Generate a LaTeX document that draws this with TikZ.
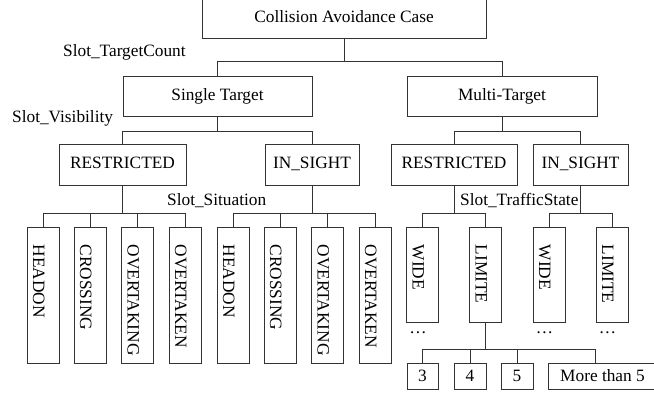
\documentclass[tikz,border=0pt]{standalone}
\usepackage{fontspec}
\setmainfont{Liberation Serif}
\usetikzlibrary{calc}
\definecolor{linec}{HTML}{333333}
\begin{document}
\begin{tikzpicture}[x=1pt,y=-1pt,
  every node/.style={font=\fontsize{17.3pt}{20pt}\selectfont, inner sep=0pt, text=black},
  box/.style={draw=linec, line width=1pt, text height=0.75em, text depth=0pt},
  sbox/.style={draw=linec, line width=1pt, text height=1.08em, text depth=0pt, minimum height=26pt},
  leaf/.style={draw=linec, line width=1pt, minimum width=32pt, minimum height=136pt},
  sleaf/.style={draw=linec, line width=1pt, minimum width=32pt, minimum height=95pt},
  lt/.style={rotate=-90, anchor=base west},
  slot/.style={anchor=base west},
  conn/.style={draw=linec, line width=1pt},
  dotsn/.style={anchor=base}
]
\useasboundingbox (0,0) rectangle (654,396);

% upper boxes
\node[box, minimum width=284pt, minimum height=40.5pt] (top) at (344,18.75) {Collision Avoidance Case};
\node[box, minimum width=189pt, minimum height=40pt] (single) at (217.5,97) {Single Target};
\node[box, minimum width=190pt, minimum height=40pt] (multi) at (502,97) {Multi-Target};
\node[box, minimum width=127pt, minimum height=41pt] (r1) at (122.5,164.5) {RESTRICTED};
\node[box, minimum width=94pt, minimum height=41pt] (i1) at (312,164.5) {IN\_SIGHT};
\node[box, minimum width=126pt, minimum height=41pt] (r2) at (454,164.5) {RESTRICTED};
\node[box, minimum width=95pt, minimum height=41pt] (i2) at (580.5,164.5) {IN\_SIGHT};

% slot labels
\node[slot] (s1) at (63,56.5) {Slot\_TargetCount};
\node[slot] (s2) at (12,123) {Slot\_Visibility};
\node[slot] (s3) at (167,205) {Slot\_Situation};
\node[slot] (s4) at (460,205) {Slot\_TrafficState};

% situation leaves
\node[leaf] (a1) at (43,295) {};
\node[leaf] (a2) at (90,295) {};
\node[leaf] (a3) at (137.5,295) {};
\node[leaf] (a4) at (185,295) {};
\node[leaf] (b1) at (233,295) {};
\node[leaf] (b2) at (280,295) {};
\node[leaf] (b3) at (327.5,295) {};
\node[leaf] (b4) at (375,295) {};
\node[lt] (a1t) at ([xshift=-10pt,yshift=-18pt]a1.north) {HEADON};
\node[lt] (a2t) at ([xshift=-10pt,yshift=-18pt]a2.north) {CROSSING};
\node[lt] (a3t) at ([xshift=-10pt,yshift=-18pt]a3.north) {OVERTAKING};
\node[lt] (a4t) at ([xshift=-10pt,yshift=-18pt]a4.north) {OVERTAKEN};
\node[lt] (b1t) at ([xshift=-10pt,yshift=-18pt]b1.north) {HEADON};
\node[lt] (b2t) at ([xshift=-10pt,yshift=-18pt]b2.north) {CROSSING};
\node[lt] (b3t) at ([xshift=-10pt,yshift=-18pt]b3.north) {OVERTAKING};
\node[lt] (b4t) at ([xshift=-10pt,yshift=-18pt]b4.north) {OVERTAKEN};

% traffic state leaves
\node[sleaf] (w1) at (422.5,274.5) {};
\node[sleaf] (l1) at (485.5,274.5) {};
\node[sleaf] (w2) at (549,274.5) {};
\node[sleaf] (l2) at (612,274.5) {};
\node[lt] (w1t) at ([xshift=-10pt,yshift=-18pt]w1.north) {WIDE};
\node[lt] (l1t) at ([xshift=-10pt,yshift=-18pt]l1.north) {LIMITE};
\node[lt] (w2t) at ([xshift=-10pt,yshift=-18pt]w2.north) {WIDE};
\node[lt] (l2t) at ([xshift=-10pt,yshift=-18pt]l2.north) {LIMITE};
\node[dotsn] (d1) at ([xshift=-4.5pt,yshift=-11pt]w1.south) {…};
\node[dotsn] (d2) at ([xshift=-4.5pt,yshift=-11pt]w2.south) {…};
\node[dotsn] (d3) at ([xshift=-4.5pt,yshift=-11pt]l2.south) {…};

% count boxes
\node[sbox, minimum width=31pt] (n3) at (422.5,376) {3};
\node[sbox, minimum width=32pt] (n4) at (470,376) {4};
\node[sbox, minimum width=32pt] (n5) at (517,376) {5};
\node[sbox, minimum width=109pt] (more) at (602.5,376) {More than 5};

% junctions
\coordinate (j0) at (top.south |- 0,62);
\coordinate (j1) at (single.south |- 0,131);
\coordinate (j2) at (multi.south |- 0,131);
\coordinate (j3) at (r1.south |- 0,213);
\coordinate (j4) at (i1.south |- 0,213);
\coordinate (j5) at (r2.south |- 0,213);
\coordinate (j6) at (i2.south |- 0,213);
\coordinate (j7) at (l1.south |- 0,349);

% connectors
\draw[conn] (top.south) -- (j0);
\draw[conn] (single.north) |- (j0);
\draw[conn] (multi.north) |- (j0);

\draw[conn] (single.south) -- (j1);
\draw[conn] (r1.north) |- (j1);
\draw[conn] (i1.north) |- (j1);
\draw[conn] (multi.south) -- (j2);
\draw[conn] (r2.north) |- (j2);
\draw[conn] (i2.north) |- (j2);

\draw[conn] (r1.south) -- (j3);
\draw[conn] (a1.north) |- (j3);
\draw[conn] (a2.north) |- (j3);
\draw[conn] (a3.north) |- (j3);
\draw[conn] (a4.north) |- (j3);
\draw[conn] (i1.south) -- (j4);
\draw[conn] (b1.north) |- (j4);
\draw[conn] (b2.north) |- (j4);
\draw[conn] (b3.north) |- (j4);
\draw[conn] (b4.north) |- (j4);

\draw[conn] (r2.south) -- (j5);
\draw[conn] (w1.north) |- (j5);
\draw[conn] (l1.north) |- (j5);
\draw[conn] (i2.south) -- (j6);
\draw[conn] (w2.north) |- (j6);
\draw[conn] (l2.north) |- (j6);

\draw[conn] (l1.south) -- (j7);
\draw[conn] (n3.north) |- (j7);
\draw[conn] (n4.north) |- (j7);
\draw[conn] (n5.north) |- (j7);
\draw[conn] ([xshift=48pt]more.north west) |- (j7);
\end{tikzpicture}
\end{document}
